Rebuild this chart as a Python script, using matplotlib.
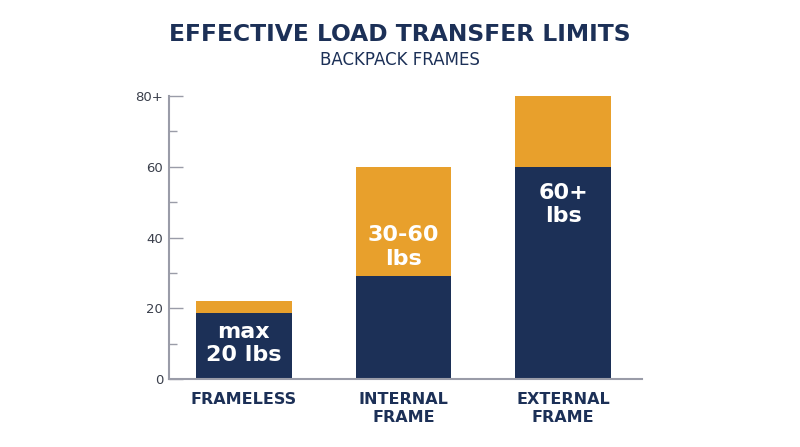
import matplotlib.pyplot as plt
import numpy as np

plt.rcParams['font.family'] = ['DejaVu Sans']

categories = ["FRAMELESS", "INTERNAL\nFRAME", "EXTERNAL\nFRAME"]
base_vals = [18.7, 29, 60]          # navy part
top_vals = [22, 60, 80]             # orange top edge
bar_labels = ["max\n20 lbs", "30-60\nlbs", "60+\nlbs"]
label_y = [10.1, 37.4, 49.4]
yticks = [0, 20, 40, 60, 80]
ytick_labels = ["0", "20", "40", "60", "80+"]

NAVY = "#1c3057"
ORANGE = "#e8a02c"

fig = plt.figure(figsize=(8, 4.47), dpi=100)
ax = fig.add_axes([0.211, 0.152, 0.5915, 0.633])

x = np.arange(len(categories))
ax.bar(x, base_vals, width=0.6, color=NAVY, zorder=2)
ax.bar(x, np.array(top_vals) - np.array(base_vals), bottom=base_vals,
       width=0.6, color=ORANGE, zorder=2)

for xi, lab, ly in zip(x, bar_labels, label_y):
    ax.text(xi, ly, lab, ha="center", va="center", color="white",
            fontsize=16, fontweight="bold", linespacing=1.22, zorder=3)

ax.set_xlim(-0.47, 2.495)
ax.set_ylim(0, 80)
ax.set_yticks(yticks)
ax.set_yticklabels(ytick_labels)
ax.set_yticks([10, 30, 50, 70], minor=True)
ax.set_xticks(x)
ax.set_xticklabels(categories, fontsize=11.5, fontweight="bold", color=NAVY,
                   linespacing=1.3, va="top")

for s in ["top", "right"]:
    ax.spines[s].set_visible(False)
for s in ["left", "bottom"]:
    ax.spines[s].set_color("#9a9ca8")
    ax.spines[s].set_linewidth(1.5)

ax.tick_params(axis="y", which="major", direction="in", length=10, width=1,
               color="#9a9ca8", labelsize=9.5, labelcolor="#3a3f4b", pad=4)
ax.tick_params(axis="y", which="minor", direction="in", length=6, width=1,
               color="#9a9ca8")
ax.tick_params(axis="x", length=0, pad=9)

fig.text(0.5, 0.922, "EFFECTIVE LOAD TRANSFER LIMITS", ha="center", va="center",
         fontsize=16.8, fontweight="bold", color=NAVY)
fig.text(0.5, 0.865, "BACKPACK FRAMES", ha="center", va="center",
         fontsize=12, color=NAVY)

fig.savefig("out.png", dpi=100)
